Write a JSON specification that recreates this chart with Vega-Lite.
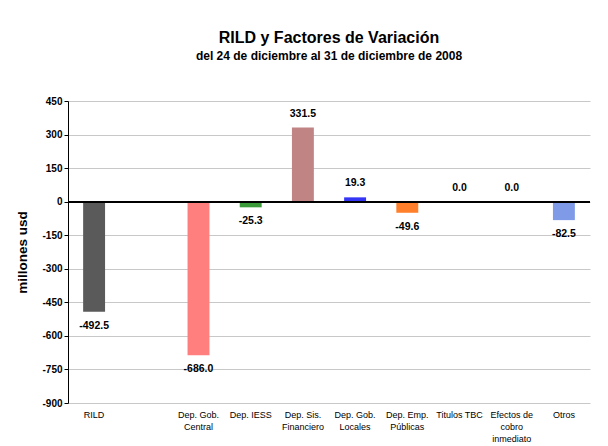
{
  "$schema": "https://vega.github.io/schema/vega-lite/v6.json",
  "width": 522,
  "height": 302,
  "padding": {"left": 15, "top": 30, "right": 18, "bottom": 5},
  "background": "white",
  "title": {
    "text": "RILD y Factores de Variación",
    "subtitle": "del 24 de diciembre al 31 de diciembre de 2008",
    "font": "Liberation Sans",
    "fontSize": 16,
    "fontWeight": "bold",
    "color": "black",
    "subtitleFont": "Liberation Sans",
    "subtitleFontSize": 12,
    "subtitleFontWeight": "bold",
    "subtitleColor": "black",
    "subtitlePadding": 5,
    "anchor": "middle",
    "offset": 34
  },
  "data": {
    "values": [
      {"cat": "RILD", "value": -492.5},
      {"cat": "Dep. Gob.|Central", "value": -686.0},
      {"cat": "Dep. IESS", "value": -25.3},
      {"cat": "Dep. Sis.|Financiero", "value": 331.5},
      {"cat": "Dep. Gob.|Locales", "value": 19.3},
      {"cat": "Dep. Emp.|Públicas", "value": -49.6},
      {"cat": "Titulos TBC", "value": 0.0},
      {"cat": "Efectos de|cobro|inmediato", "value": 0.0},
      {"cat": "Otros", "value": -82.5}
    ]
  },
  "encoding": {
    "x": {
      "field": "cat",
      "type": "nominal",
      "sort": null,
      "scale": {
        "domain": ["RILD", " ", "Dep. Gob.|Central", "Dep. IESS", "Dep. Sis.|Financiero", "Dep. Gob.|Locales", "Dep. Emp.|Públicas", "Titulos TBC", "Efectos de|cobro|inmediato", "Otros"],
        "paddingInner": 0,
        "paddingOuter": 0
      },
      "axis": {
        "title": null,
        "labelAngle": 0,
        "labelExpr": "split(datum.label, '|')",
        "labelFont": "Liberation Sans",
        "labelFontSize": 9,
        "labelColor": "black",
        "labelLineHeight": 12,
        "labelPadding": 7,
        "domain": false,
        "ticks": false,
        "grid": false
      }
    },
    "y": {
      "field": "value",
      "type": "quantitative",
      "scale": {"domain": [-900, 450], "nice": false, "zero": false},
      "axis": {
        "title": "millones usd",
        "titleFont": "Liberation Sans",
        "titleFontSize": 13.5,
        "titleFontWeight": "bold",
        "titleColor": "black",
        "titlePadding": 12,
        "values": [-900, -750, -600, -450, -300, -150, 0, 150, 300, 450],
        "labelExpr": "replace(format(datum.value, 'd'), '\u2212', '-')",
        "labelFont": "Liberation Sans",
        "labelFontSize": 10,
        "labelFontWeight": "bold",
        "labelColor": "black",
        "domainColor": "black",
        "tickColor": "black",
        "tickSize": 4,
        "gridColor": "#C8C8C8",
        "gridWidth": 1
      }
    }
  },
  "layer": [
    {
      "mark": {"type": "bar", "width": {"band": 0.42}},
      "encoding": {
        "color": {
          "field": "cat",
          "type": "nominal",
          "legend": null,
          "scale": {
            "domain": ["RILD", "Dep. Gob.|Central", "Dep. IESS", "Dep. Sis.|Financiero", "Dep. Gob.|Locales", "Dep. Emp.|Públicas", "Titulos TBC", "Efectos de|cobro|inmediato", "Otros"],
            "range": ["#5A5A5A", "#FF7F7F", "#3A9A3A", "#C08484", "#3535F5", "#FF7F2A", "#888888", "#888888", "#7F9BE8"]
          }
        }
      }
    },
    {
      "mark": {"type": "rule", "color": "black", "strokeWidth": 1.5},
      "encoding": {"y": {"datum": 0}, "x": null}
    },
    {
      "transform": [
        {"filter": "datum.value >= 0"},
        {"calculate": "replace(format(datum.value, '.1f'), '\u2212', '-')", "as": "txt"}
      ],
      "mark": {"type": "text", "font": "Liberation Sans", "fontSize": 10.5, "fontWeight": "bold", "color": "black", "baseline": "middle", "dy": -14},
      "encoding": {"text": {"field": "txt"}}
    },
    {
      "transform": [
        {"filter": "datum.value < 0"},
        {"calculate": "replace(format(datum.value, '.1f'), '\u2212', '-')", "as": "txt"}
      ],
      "mark": {"type": "text", "font": "Liberation Sans", "fontSize": 10.5, "fontWeight": "bold", "color": "black", "baseline": "middle", "dy": 14},
      "encoding": {"text": {"field": "txt"}}
    }
  ],
  "config": {"view": {"stroke": null}}
}
